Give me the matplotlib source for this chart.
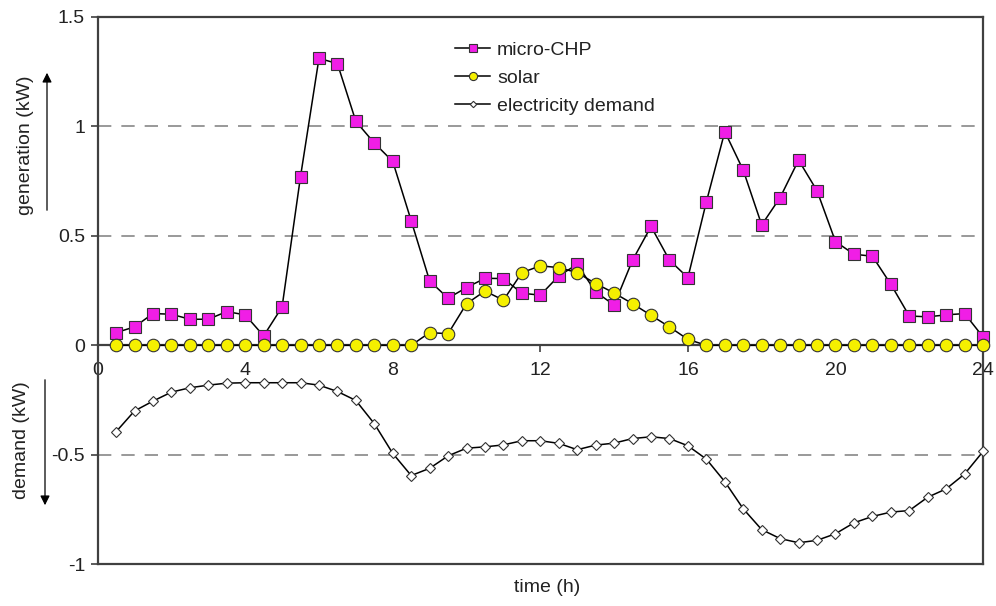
import matplotlib
matplotlib.use('Agg')
import matplotlib.pyplot as plt
import numpy as np

plt.rcParams['font.family'] = ['Liberation Sans', 'DejaVu Sans']

# half-hourly time steps (h)
hours = np.arange(0.5, 24.01, 0.5)

micro_chp = [0.058, 0.084, 0.145, 0.142, 0.119, 0.119, 0.154, 0.139, 0.043, 0.175,
             0.771, 1.311, 1.287, 1.023, 0.924, 0.840, 0.569, 0.294, 0.215, 0.264,
             0.306, 0.305, 0.238, 0.229, 0.317, 0.370, 0.244, 0.184, 0.389, 0.543,
             0.389, 0.309, 0.655, 0.976, 0.800, 0.550, 0.675, 0.846, 0.706, 0.474,
             0.416, 0.407, 0.279, 0.134, 0.130, 0.139, 0.145, 0.038]

solar = [0, 0, 0, 0, 0, 0, 0, 0, 0, 0,
         0, 0, 0, 0, 0, 0, 0, 0.058, 0.053, 0.190,
         0.248, 0.206, 0.332, 0.363, 0.355, 0.332, 0.282, 0.239, 0.190, 0.137,
         0.084, 0.027, 0, 0, 0, 0, 0, 0, 0, 0,
         0, 0, 0, 0, 0, 0, 0, 0]

demand = [-0.395, -0.300, -0.255, -0.214, -0.194, -0.182, -0.173, -0.171, -0.171, -0.171,
          -0.171, -0.182, -0.211, -0.252, -0.358, -0.494, -0.595, -0.562, -0.505, -0.470,
          -0.464, -0.455, -0.436, -0.436, -0.448, -0.477, -0.456, -0.447, -0.426, -0.418,
          -0.426, -0.459, -0.520, -0.623, -0.747, -0.842, -0.883, -0.902, -0.891, -0.861,
          -0.811, -0.782, -0.762, -0.755, -0.694, -0.656, -0.588, -0.485]

x_ticks = [0, 4, 8, 12, 16, 20, 24]
y_ticks = [-1, -0.5, 0, 0.5, 1, 1.5]
y_ticklabels = ['-1', '-0.5', '0', '0.5', '1', '1.5']

frame_col = '#404040'
text_col = '#222222'
fs = 14

fig = plt.figure(figsize=(9.96, 6.06), dpi=100)
ax = fig.add_axes([0.098, 0.069, 0.889, 0.903])

ax.set_xlim(0, 24)
ax.set_ylim(-1, 1.5)

# dashed gridlines
for g in [1, 0.5, -0.5]:
    ax.axhline(g, color='#888888', linestyle=(0, (8, 6)), linewidth=1.2, zorder=1)

ax.plot(hours, micro_chp, '-', color='black', linewidth=1.1, marker='s', markersize=9,
        markerfacecolor='#f01ee6', markeredgecolor='#333333', markeredgewidth=0.8,
        label='micro-CHP', zorder=4, clip_on=False)
ax.plot(hours, solar, '-', color='black', linewidth=1.1, marker='o', markersize=9,
        markerfacecolor='#f5f000', markeredgecolor='#333333', markeredgewidth=0.8,
        label='solar', zorder=5, clip_on=False)
ax.plot(hours, demand, '-', color='black', linewidth=1.1, marker='D', markersize=5,
        markerfacecolor='white', markeredgecolor='#333333', markeredgewidth=0.8,
        label='electricity demand', zorder=4, clip_on=False)

# frame: x axis at zero, box around
for s in ['left', 'right', 'top', 'bottom']:
    ax.spines[s].set_color(frame_col)
    ax.spines[s].set_linewidth(1.6)
ax.spines['bottom'].set_position(('data', 0))
ax.axhline(-1, color=frame_col, linewidth=1.6, clip_on=False, zorder=3)

ax.set_xticks(x_ticks)
ax.set_xticklabels([str(t) for t in x_ticks])
ax.set_yticks(y_ticks)
ax.set_yticklabels(y_ticklabels)
ax.tick_params(axis='x', direction='out', length=5, width=1.2, color=frame_col,
               labelsize=fs, pad=7, labelcolor=text_col)
ax.tick_params(axis='y', direction='out', length=5, width=1.2, color=frame_col,
               labelsize=fs, pad=4, labelcolor=text_col)

# axis labels with arrows
fig.text(26 / 996, 1 - 145 / 606, 'generation (kW)', rotation=90, ha='center', va='center',
         fontsize=fs, color=text_col)
fig.text(22 / 996, 1 - 440 / 606, 'demand (kW)', rotation=90, ha='center', va='center',
         fontsize=fs, color=text_col)
fig.add_artist(matplotlib.patches.FancyArrowPatch(
    (47 / 996, 1 - 213 / 606), (47 / 996, 1 - 70 / 606), transform=fig.transFigure,
    arrowstyle='-|>', mutation_scale=14, color='black', linewidth=0.9))
fig.add_artist(matplotlib.patches.FancyArrowPatch(
    (45 / 996, 1 - 377 / 606), (45 / 996, 1 - 508 / 606), transform=fig.transFigure,
    arrowstyle='-|>', mutation_scale=14, color='black', linewidth=0.9))

fig.text(547 / 996, 1 - 588 / 606, 'time (h)', ha='center', va='center',
         fontsize=fs, color=text_col)

leg = ax.legend(loc='upper left', bbox_to_anchor=(0.384, 0.987), frameon=False,
                fontsize=fs, handlelength=1.8, handletextpad=0.35, labelspacing=0.52,
                markerscale=0.65)
for t in leg.get_texts():
    t.set_color(text_col)

fig.savefig('out.png', dpi=100)
